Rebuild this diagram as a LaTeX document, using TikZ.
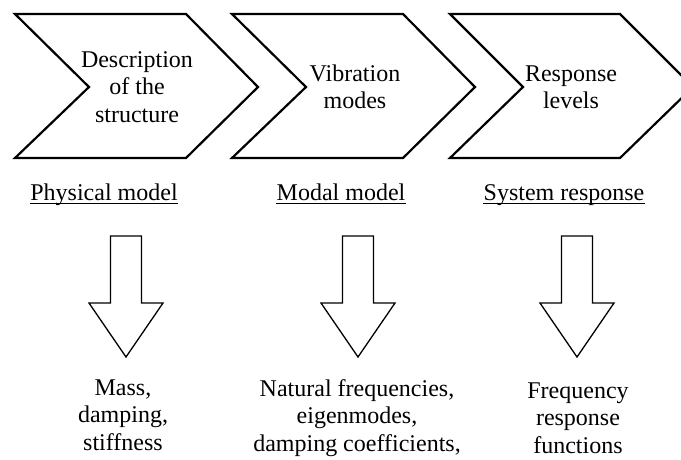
\documentclass[tikz,border=0pt]{standalone}
\usepackage{fontspec}
\setmainfont{Liberation Serif}
\begin{document}
\begin{tikzpicture}[x=1pt,y=-1pt,
  chev/.style={draw=black,line width=2.2pt,line join=miter},
  blockarrow/.style={draw=black,line width=1.3pt,fill=white,line join=miter},
  txt/.style={inner sep=0pt,anchor=base,align=center,font=\fontsize{24}{27.6}\selectfont},
  ulabel/.style={inner sep=0pt,anchor=base,font=\fontsize{24}{27.6}\selectfont}]
\clip (0,0) rectangle (681,459);
\fill[white] (0,0) rectangle (681,459);
% chevrons
\draw[chev] (15,14) -- (186,14) -- (258,87) -- (186,158) -- (15,158) -- (89,87) -- cycle;
\draw[chev] (232,14) -- (403,14) -- (475,87) -- (403,158) -- (232,158) -- (306,87) -- cycle;
\draw[chev] (450,14) -- (620,14) -- (693,87) -- (620,158) -- (450,158) -- (523,87) -- cycle;
% chevron texts (anchor = baseline of last line)
\node[txt] (c1) at (137,122.5) {Description\\of the\\structure};
\node[txt] (c2) at (355,108.8) {Vibration\\modes};
\node[txt] (c3) at (571,108.8) {Response\\levels};
% underlined labels
\node[ulabel] (l1) at (104,200) {Physical model};
\node[ulabel] (l2) at (341,200) {Modal model};
\node[ulabel] (l3) at (564,200) {System response};
\foreach \n in {l1,l2,l3}{
  \draw[line width=1.6pt] ([yshift=-3.5pt]\n.base west) -- ([yshift=-3.5pt]\n.base east);
}
% block arrows
\foreach \cx/\nm in {126/a1,358/a2,577/a3}{
  \draw[blockarrow] (\cx-15.5,236) -- (\cx+15.5,236) -- (\cx+15.5,303) -- (\cx+37,303)
     -- (\cx,357) -- (\cx-37,303) -- (\cx-15.5,303) -- cycle;
  \coordinate (\nm) at (\cx,357);
}
% result texts
\node[txt] (r1) at (123,450.5) {Mass,\\damping,\\stiffness};
\node[txt] (r2) at (357,451.2) {Natural frequencies,\\eigenmodes,\\damping coefficients,};
\node[txt] (r3) at (578,453.2) {Frequency\\response\\functions};
\end{tikzpicture}
\end{document}
